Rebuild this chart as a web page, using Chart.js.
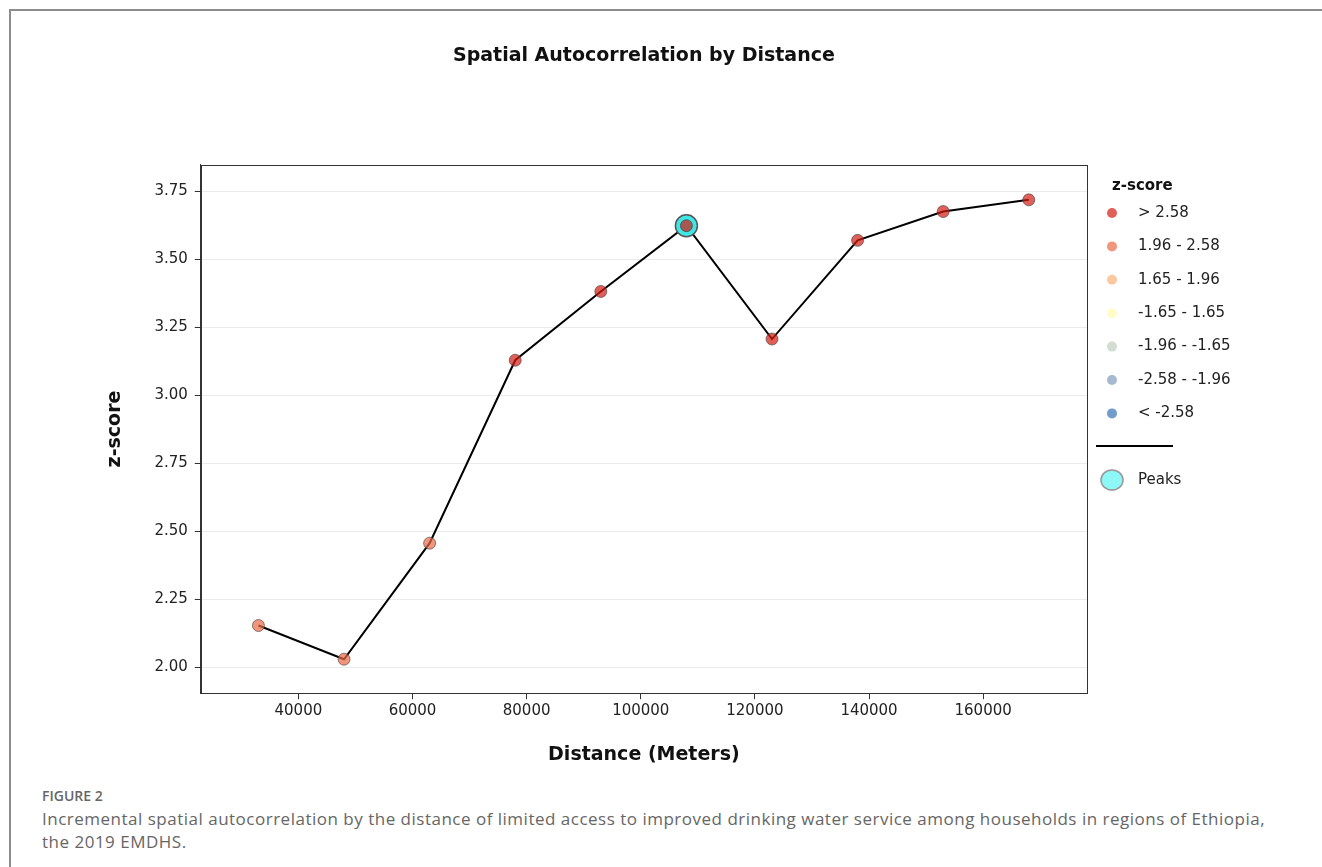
<!DOCTYPE html>
<html>
<head>
<meta charset="utf-8">
<script src="https://cdn.jsdelivr.net/npm/chart.js@4.4.1/dist/chart.umd.min.js"></script>
<style>
    body { margin: 0; background: #fff; width: 1322px; height: 867px; overflow: hidden; position: relative; }
    #frame { position: absolute; left: 9px; top: 9px; width: 1330px; height: 870px;
             border-top: 2px solid #8c8c8c; border-left: 2px solid #8c8c8c; }
    #wrap { position: absolute; left: 0; top: 0; width: 1322px; height: 780px; }
    #caption { position: absolute; left: 42px; top: 787px; width: 1255px; color: #666;
               font-family: "Open Sans", sans-serif; }
    #caption .fig { font-size: 14px; font-weight: 600; line-height: 18px; }
    #caption .txt { font-size: 17px; letter-spacing: 0.5px; line-height: 23px; margin-top: 2px; }
</style>
</head>
<body>
<div id="frame"></div>
<div id="wrap"><canvas id="chart"></canvas></div>
<div id="caption">
    <div class="fig">FIGURE 2</div>
    <div class="txt">Incremental spatial autocorrelation by the distance of limited access to improved drinking water service among households in regions of Ethiopia, the 2019 EMDHS.</div>
</div>
<script>
// data
const distances = [33000, 48000, 63000, 78000, 93000, 108000, 123000, 138000, 153000, 168000];
const zScores = [2.153, 2.029, 2.456, 3.129, 3.382, 3.624, 3.207, 3.570, 3.676, 3.719];
const peakDistances = [108000];
const peakScores = [3.624];

// tick positions on the two axes
const xTickValues = [40000, 60000, 80000, 100000, 120000, 140000, 160000];
const yTickValues = [2.00, 2.25, 2.50, 2.75, 3.00, 3.25, 3.50, 3.75];

// z-score classes (legend), highest first
const binLabels = ['> 2.58', '1.96 - 2.58', '1.65 - 1.96', '-1.65 - 1.65', '-1.96 - -1.65', '-2.58 - -1.96', '< -2.58'];
const binLower = [2.58, 1.96, 1.65, -1.65, -1.96, -2.58, -Infinity];
const binColors = [
    'rgba(212,27,19,0.7)', 'rgba(233,105,69,0.7)', 'rgba(251,177,119,0.7)', 'rgba(255,251,177,0.7)',
    'rgba(191,208,191,0.7)', 'rgba(127,155,191,0.7)', 'rgba(55,112,184,0.7)'
];

function binColor(z) {
    const i = binLower.findIndex(lo => z > lo);
    return binColors[i];
}

const points = distances.map((d, i) => ({x: d, y: zScores[i]}));
const peaks = peakDistances.map((d, i) => ({x: d, y: peakScores[i]}));

// box round the plot area (matplotlib style)
const framePlugin = {
    id: 'frame',
    beforeDatasetsDraw(chart) {
        const {ctx, chartArea: a} = chart;
        ctx.save();
        ctx.strokeStyle = '#333';
        ctx.lineWidth = 1;
        ctx.strokeRect(Math.round(a.left) + 0.5, Math.round(a.top) + 0.5,
            Math.round(a.right - a.left), Math.round(a.bottom - a.top));
        ctx.restore();
    }
};

// legend on the right: classes, separator line, peaks
const legendPlugin = {
    id: 'zLegend',
    afterDraw(chart) {
        const ctx = chart.ctx;
        const x0 = chart.chartArea.right + 25;
        const textX = x0 + 26;
        ctx.save();
        ctx.fillStyle = '#111';
        ctx.textBaseline = 'middle';
        ctx.font = 'bold 15px "DejaVu Sans"';
        ctx.fillText('z-score', x0, 186);
        ctx.font = '15px "DejaVu Sans"';
        binLabels.forEach(function (label, i) {
            const y = 213 + i * 33.4;
            ctx.beginPath();
            ctx.arc(x0, y, 5, 0, Math.PI * 2);
            ctx.fillStyle = binColors[i];
            ctx.fill();
            ctx.fillStyle = '#222';
            ctx.fillText(label, textX, y);
        });
        ctx.beginPath();
        ctx.moveTo(x0 - 16, 446);
        ctx.lineTo(x0 + 61, 446);
        ctx.strokeStyle = '#000';
        ctx.lineWidth = 2;
        ctx.stroke();
        ctx.beginPath();
        ctx.ellipse(x0, 480, 11, 10, 0, 0, Math.PI * 2);
        ctx.fillStyle = '#8ef8f8';
        ctx.fill();
        ctx.strokeStyle = '#999';
        ctx.lineWidth = 1.5;
        ctx.stroke();
        ctx.fillStyle = '#222';
        ctx.fillText('Peaks', textX, 480);
        ctx.restore();
    }
};

const tickFont = {family: '"DejaVu Sans"', size: 15};
const axisTitleFont = {family: '"DejaVu Sans"', size: 19, weight: 'bold'};

new Chart(document.getElementById('chart'), {
    type: 'scatter',
    data: {
        datasets: [
            {
                label: 'line',
                data: points,
                showLine: true,
                borderColor: '#000',
                borderWidth: 2,
                pointRadius: 0,
                order: 3,
            },
            {
                label: 'Peaks',
                data: peaks,
                pointRadius: 11,
                pointHoverRadius: 11,
                backgroundColor: '#3fe6e6',
                borderColor: '#555',
                borderWidth: 1.5,
                order: 2,
            },
            {
                label: 'z-score',
                data: points,
                pointRadius: 6,
                pointHoverRadius: 6,
                backgroundColor: zScores.map(binColor),
                borderColor: 'rgba(60,60,60,0.6)',
                borderWidth: 1,
                order: 1,
            },
        ]
    },
    options: {
        responsive: true,
        maintainAspectRatio: false,
        animation: false,
        layout: {
            padding: {left: 80, right: 235, top: 30, bottom: 11},
        },
        scales: {
            x: {
                type: 'linear',
                min: 22900,
                max: 178200,
                border: {color: '#333', width: 1},
                grid: {drawOnChartArea: false, tickColor: '#333', tickLength: 6},
                afterBuildTicks: scale => {
                    scale.ticks = xTickValues.map(v => ({value: v}));
                },
                ticks: {
                    font: tickFont,
                    color: '#222',
                    padding: 3,
                    maxRotation: 0,
                    autoSkip: false,
                    callback: v => String(v),
                },
                title: {
                    display: true,
                    text: 'Distance (Meters)',
                    font: axisTitleFont,
                    color: '#111',
                    padding: {top: 20, bottom: 3},
                },
            },
            y: {
                type: 'linear',
                min: 1.904,
                max: 3.848,
                border: {color: '#333', width: 1},
                grid: {color: '#ebebeb', tickColor: '#333', tickLength: 6},
                afterBuildTicks: scale => {
                    scale.ticks = yTickValues.map(v => ({value: v}));
                },
                ticks: {
                    font: tickFont,
                    color: '#222',
                    padding: 7,
                    autoSkip: false,
                    callback: v => v.toFixed(2),
                },
                title: {
                    display: true,
                    text: 'z-score',
                    font: axisTitleFont,
                    color: '#111',
                    padding: {top: 23.6, bottom: 21},
                },
            },
        },
        plugins: {
            legend: {display: false},
            tooltip: {enabled: false},
            title: {
                display: true,
                fullSize: false,
                text: 'Spatial Autocorrelation by Distance',
                font: {family: '"DejaVu Sans"', size: 19, weight: 'bold'},
                color: '#111',
                padding: {top: 15, bottom: 97},
            },
        },
    },
    plugins: [framePlugin, legendPlugin],
});
</script>
</body>
</html>
